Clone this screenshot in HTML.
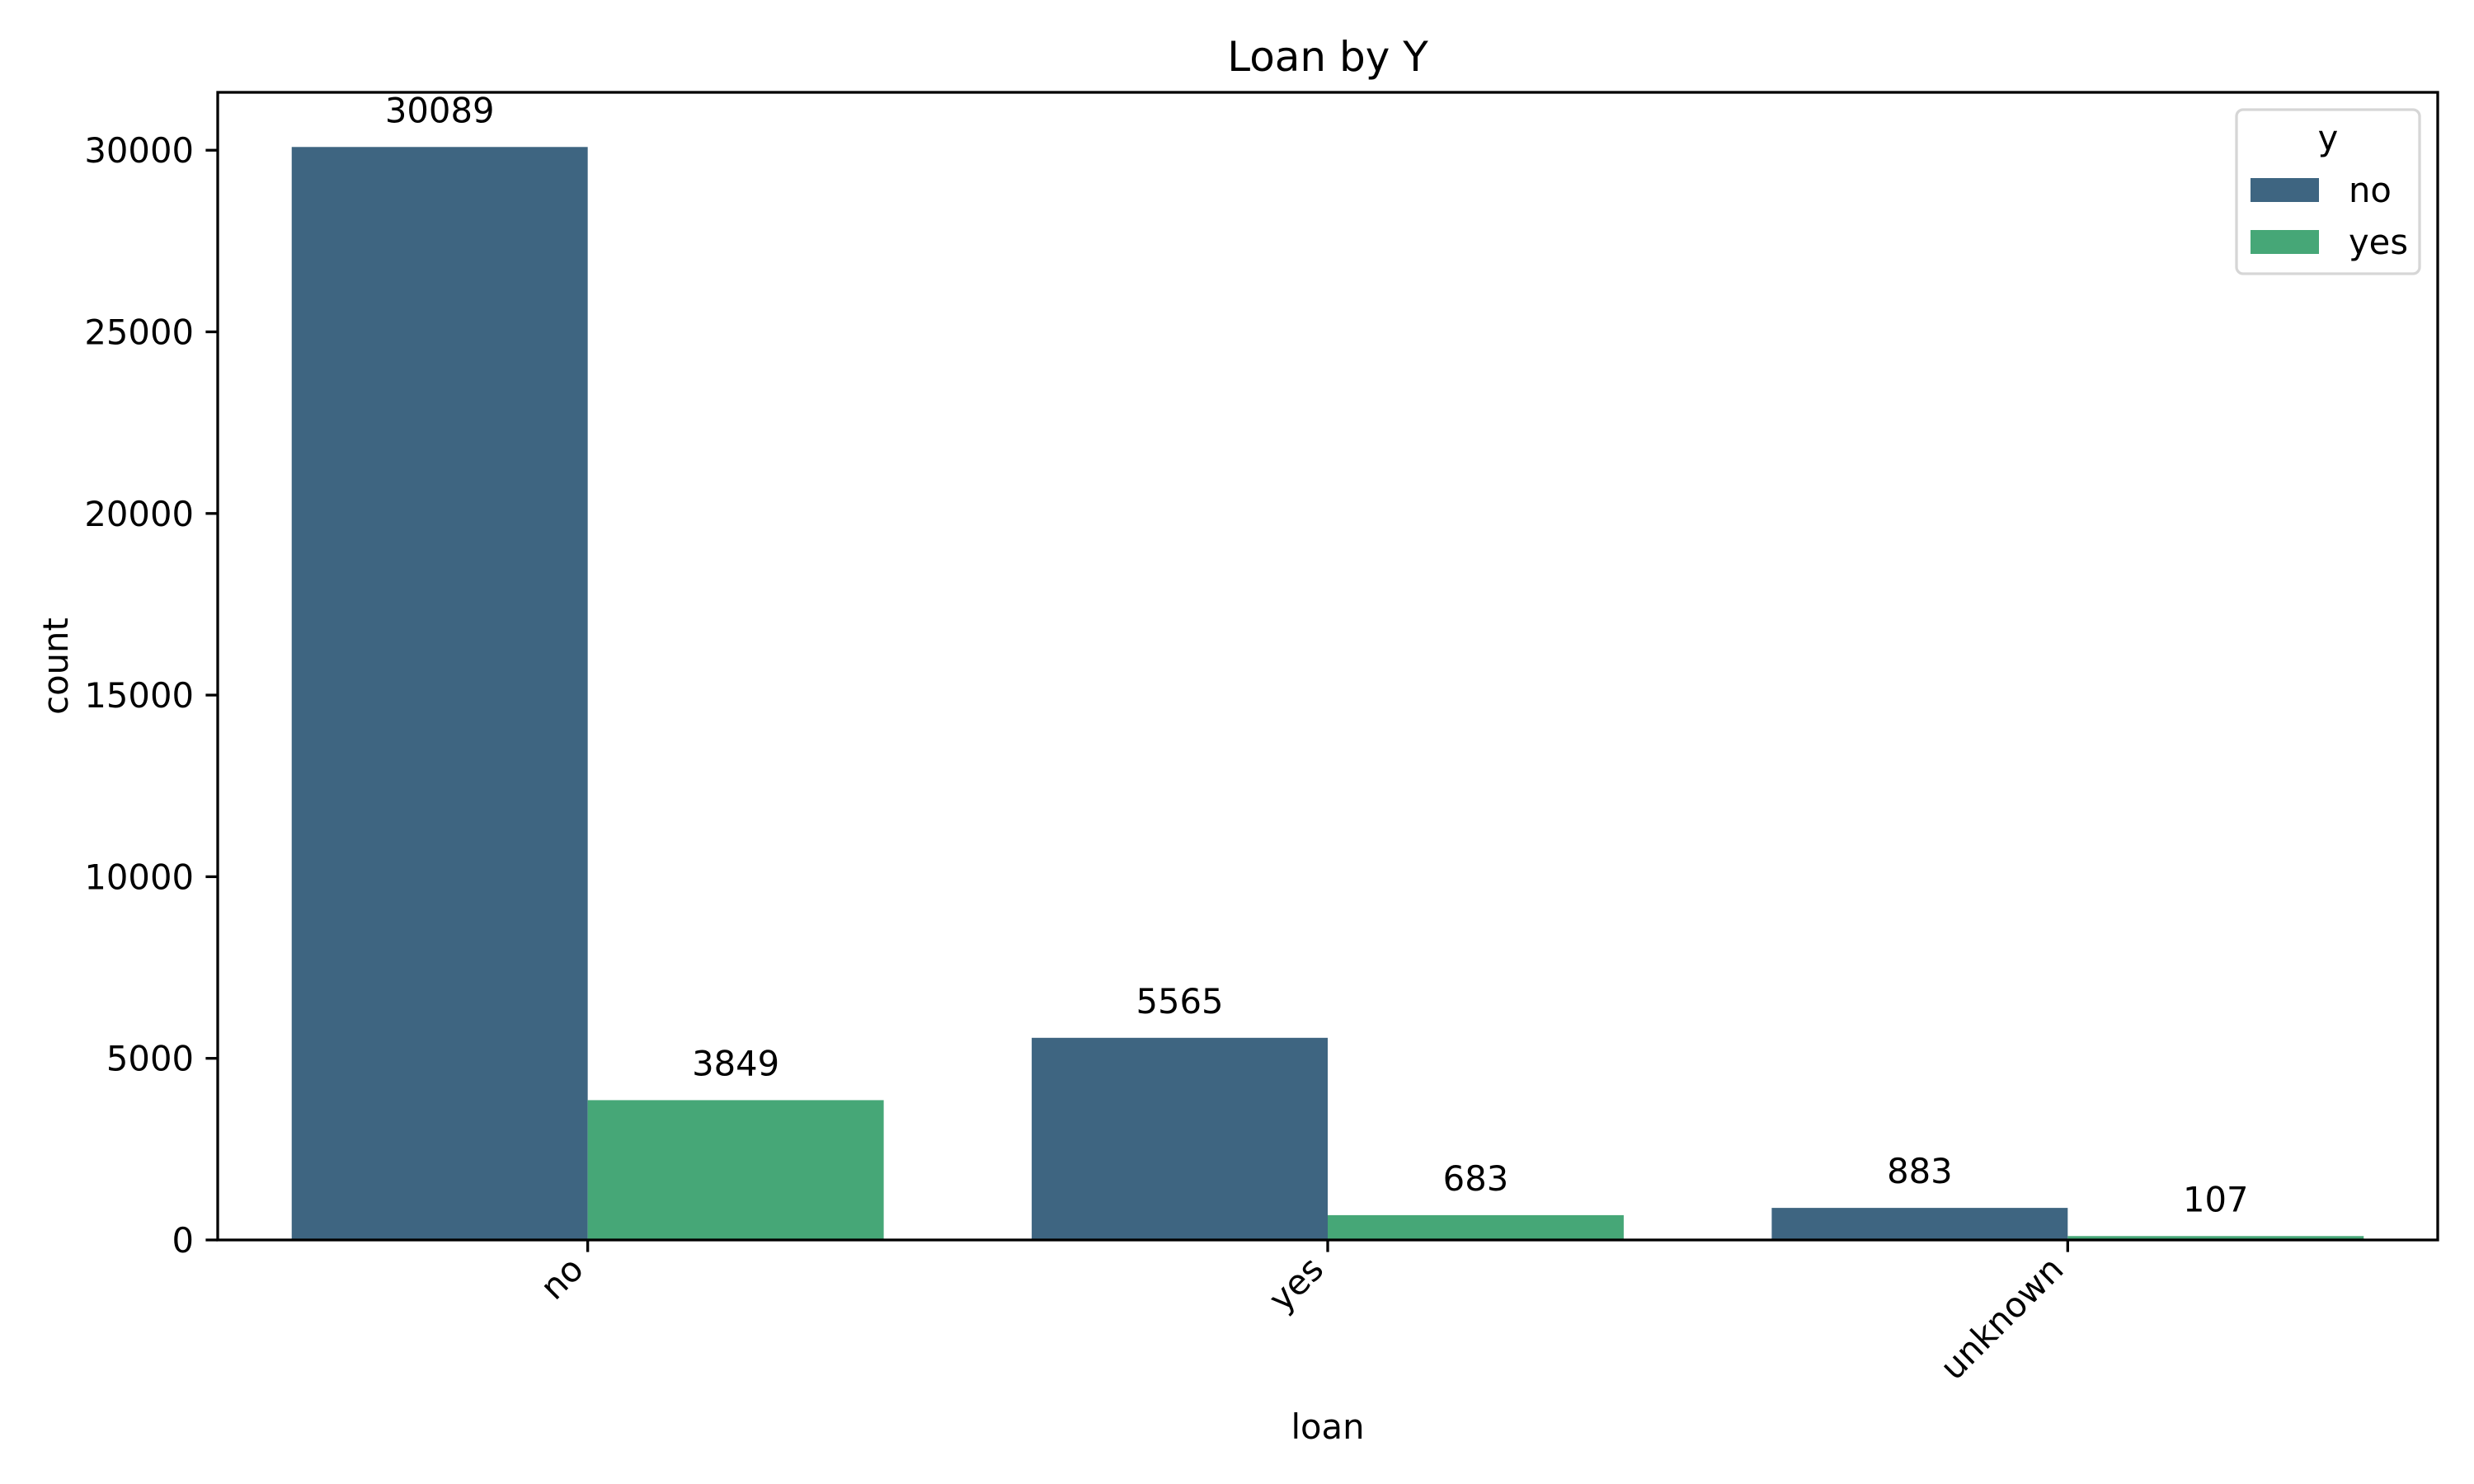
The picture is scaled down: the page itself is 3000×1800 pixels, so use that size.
<!DOCTYPE html>
<html><head><meta charset="utf-8"><style>html,body{margin:0;padding:0;background:#fff}svg{display:block}text{font-family:"DejaVu Sans","Liberation Sans",sans-serif;fill:#000}</style></head>
<body>
<svg id="chart" xmlns="http://www.w3.org/2000/svg" width="3000" height="1800" viewBox="0 0 3000 1800">
<rect width="3000" height="1800" fill="#fff"/>
<g id="plot"></g>
</svg>
<script>
const categories = ["no", "yes", "unknown"];
const seriesNames = ["no", "yes"];
const seriesNo = [30089, 5565, 883];
const seriesYes = [3849, 683, 107];
const yTicks = [0, 5000, 10000, 15000, 20000, 25000, 30000];
const colors = ["#3e6581", "#46a777"];

const NS = "http://www.w3.org/2000/svg";
const L = 264, R = 2956, T = 112, B = 1504;
const maxV = Math.max(...seriesNo, ...seriesYes) * 1.05;
const y = v => B - v / maxV * (B - T);
const band = (R - L) / categories.length;
const xc = i => L + band * (i + 0.5);
const g = document.getElementById('plot');
function el(tag, attrs, text) {
  const e = document.createElementNS(NS, tag);
  for (const k in attrs) e.setAttribute(k, attrs[k]);
  if (text !== undefined) e.textContent = text;
  g.appendChild(e);
  return e;
}
const bw = band * 0.4;
[seriesNo, seriesYes].forEach((s, si) => {
  s.forEach((v, i) => {
    const x0 = xc(i) - bw + si * bw;
    const r = el('rect', {x: x0, y: y(v), width: bw, height: B - y(v), fill: colors[si]});
    
    
    const t = el('text', {x: x0 + bw / 2, y: y(v) - 30, 'text-anchor': 'middle', 'font-size': 41.7}, String(v));
    
    
  });
});
yTicks.forEach(v => {
  const ln = el('line', {x1: L - 14.6, x2: L, y1: y(v), y2: y(v), stroke: '#000', 'stroke-width': 3.3});
  
  
  const t = el('text', {x: L - 29, y: y(v) + 15, 'text-anchor': 'end', 'font-size': 41.7}, String(v));
  
  
});
categories.forEach((c, i) => {
  const ln = el('line', {x1: xc(i), x2: xc(i), y1: B, y2: B + 14.6, stroke: '#000', 'stroke-width': 3.3});
  
  
  const t = el('text', {transform: 'translate(' + (xc(i) - 25) + ',1520) rotate(-45)', 'text-anchor': 'end', 'dominant-baseline': 'hanging', 'font-size': 41.7}, c);
  
  
});
const frame = el('rect', {x: L, y: T, width: R - L, height: B - T, fill: 'none', stroke: '#000', 'stroke-width': 3.3});


const title = el('text', {x: (L + R) / 2, y: 86, 'text-anchor': 'middle', 'font-size': 50}, 'Loan by Y');


const xl = el('text', {x: (L + R) / 2, y: 1745, 'text-anchor': 'middle', 'font-size': 41.7}, 'loan');


const yl = el('text', {transform: 'translate(82,' + (T + B) / 2 + ') rotate(-90)', 'text-anchor': 'middle', 'font-size': 41.7}, 'count');


const lb = el('rect', {x: 2712, y: 133, width: 222, height: 199, rx: 8, fill: '#fff', 'fill-opacity': 0.8, stroke: '#d6d6d6', 'stroke-width': 3.3});


const lt = el('text', {x: 2823, y: 182, 'text-anchor': 'middle', 'font-size': 41.7}, 'y');


seriesNames.forEach((n, si) => {
  const py = 216 + si * 63;
  const p = el('rect', {x: 2729, y: py, width: 83, height: 29, fill: colors[si]});
  
  
  const t = el('text', {x: 2848, y: py + 29, 'font-size': 41.7}, n);
  
  
});
</script>
</body></html>
